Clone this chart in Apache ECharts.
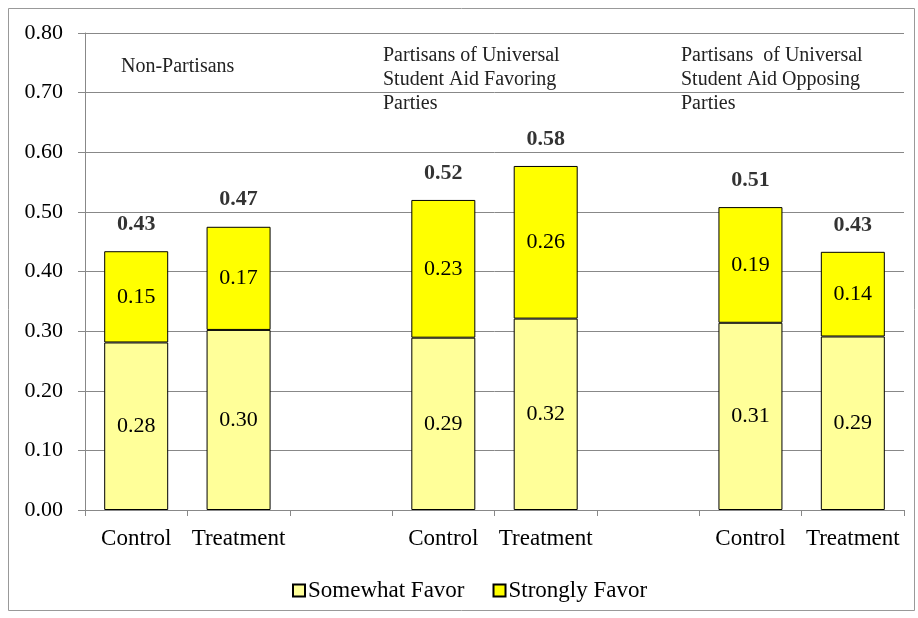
<!DOCTYPE html>
<html>
<head>
<meta charset="utf-8">
<script src="https://cdn.jsdelivr.net/npm/echarts@6/dist/echarts.min.js"></script>
<style>
  html, body { margin: 0; padding: 0; background: #fff; }
  #chart { width: 918px; height: 618px; }
</style>
</head>
<body>
<div id="chart"></div>
<script>
// categories (blank slots separate the three groups)
const categories = ['Control', 'Treatment', '', 'Control', 'Treatment', '', 'Control', 'Treatment'];
const somewhatFavor = [0.281, 0.302, null, 0.289, 0.321, null, 0.314, 0.291];
const stronglyFavor = [0.153, 0.173, null, 0.231, 0.256, null, 0.194, 0.142];
const groupTitles = [
  'Non-Partisans',
  'Partisans of Universal\nStudent Aid Favoring\nParties',
  'Partisans  of Universal\nStudent Aid Opposing\nParties'
];
const yTicks = [0, 0.1, 0.2, 0.3, 0.4, 0.5, 0.6, 0.7, 0.8];

const totals = somewhatFavor.map((v, i) => v == null ? null : v + stronglyFavor[i]);

const font = 'Liberation Serif';
const chart = echarts.init(document.getElementById('chart'));

chart.setOption({
  backgroundColor: '#fff',
  animation: false,
  textStyle: { fontFamily: font, color: '#000' },
  grid: { left: 85, right: 14, top: 33, bottom: 108 },
  legend: {
    data: ['Somewhat Favor', 'Strongly Favor'],
    left: 287, top: 574,
    icon: 'rect', itemWidth: 12, itemHeight: 12, itemGap: 28,
    textStyle: { fontFamily: font, fontSize: 23, color: '#000', padding: [0, 0, 0, -2] }
  },
  xAxis: {
    type: 'category',
    data: categories,
    axisLine: { lineStyle: { color: '#888', width: 1 } },
    axisTick: { show: true, length: 6, lineStyle: { color: '#888' } },
    axisLabel: { fontFamily: font, fontSize: 23, color: '#000', margin: 17, interval: 0 }
  },
  yAxis: {
    type: 'value',
    min: yTicks[0], max: yTicks[yTicks.length - 1], interval: 0.1,
    axisLine: { show: true, lineStyle: { color: '#888', width: 1 } },
    axisTick: { show: true, length: 7, lineStyle: { color: '#888' } },
    splitLine: { lineStyle: { color: '#888', width: 1 } },
    axisLabel: {
      fontFamily: font, fontSize: 22, color: '#000', margin: 22,
      formatter: v => v.toFixed(2)
    }
  },
  series: [
    {
      name: 'Somewhat Favor', type: 'bar', stack: 'total', barWidth: 64,
      data: somewhatFavor,
      itemStyle: { color: '#FFFF99', borderColor: '#000', borderWidth: 1 },
      label: {
        show: true, position: 'inside', fontFamily: font, fontSize: 22, color: '#000',
        formatter: p => p.value.toFixed(2)
      }
    },
    {
      name: 'Strongly Favor', type: 'bar', stack: 'total', barWidth: 64,
      data: stronglyFavor,
      itemStyle: { color: '#FFFF00', borderColor: '#000', borderWidth: 1 },
      label: {
        show: true, position: 'inside', fontFamily: font, fontSize: 22, color: '#000',
        formatter: p => p.value.toFixed(2)
      }
    },
    {
      name: 'Total', type: 'scatter', symbolSize: 2,
      data: totals,
      silent: true,
      itemStyle: { color: 'rgba(0,0,0,0)' },
      label: {
        show: true, position: 'top', distance: 15,
        fontFamily: font, fontSize: 22, fontWeight: 'bold', color: '#000',
        formatter: p => {
          const v = Array.isArray(p.value) ? p.value[1] : p.value;
          return v == null ? '' : Number(v).toFixed(2);
        }
      }
    }
  ],
  graphic: [
    {
      type: 'rect', left: 6, top: 6, silent: true,
      shape: { width: 906, height: 602 },
      style: { fill: 'none', stroke: '#999', lineWidth: 1 }
    },
    {
      type: 'text', left: 121, top: 55,
      style: { text: groupTitles[0], font: '20px "Liberation Serif"', fill: '#222', lineHeight: 24 }
    },
    {
      type: 'text', left: 383, top: 44,
      style: { text: groupTitles[1], font: '20px "Liberation Serif"', fill: '#222', lineHeight: 24 }
    },
    {
      type: 'text', left: 681, top: 44,
      style: { text: groupTitles[2], font: '20px "Liberation Serif"', fill: '#222', lineHeight: 24 }
    }
  ]
});
</script>
</body>
</html>
